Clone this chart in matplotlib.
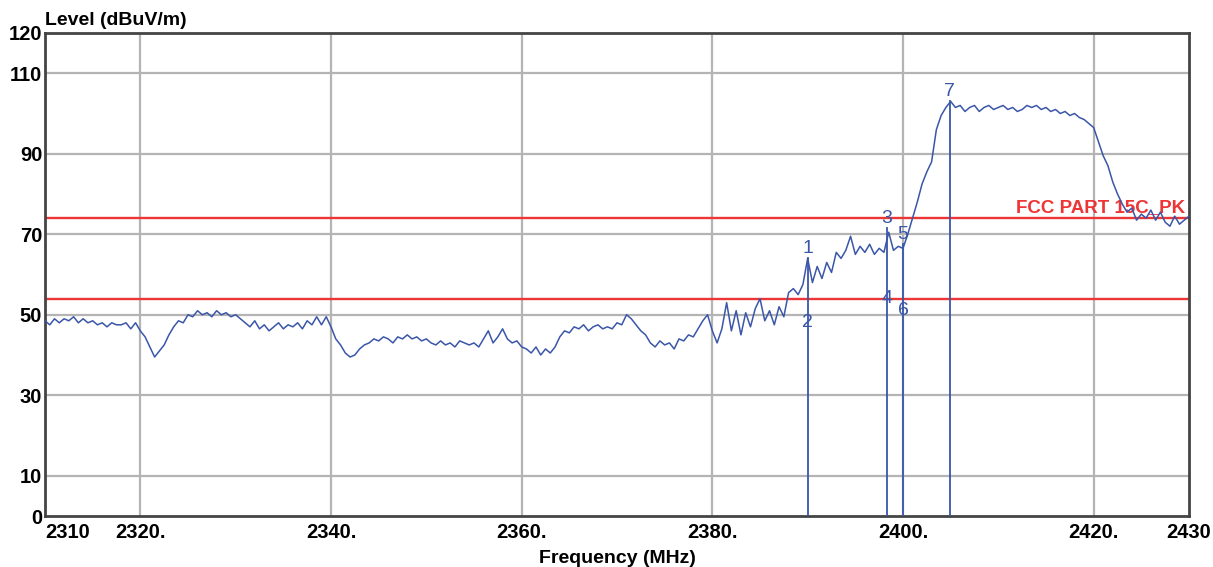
import numpy as np
import matplotlib
matplotlib.use("Agg")
import matplotlib.pyplot as plt

plt.rcParams['font.family'] = ['Liberation Sans', 'DejaVu Sans']

# sweep levels, 0.5 MHz apart, 2310 .. 2430 MHz (dBuV/m)
level = [
    48.5, 47.5, 49, 48, 49, 48.5, 49.5, 48, 49, 48, 48.5, 47.5, 48, 47, 48, 47.5, 47.5, 48, 46.5, 48,
    46, 44.5, 42, 39.5, 41, 42.5, 45, 47, 48.5, 48, 50, 49.5, 51, 50, 50.5, 49.5, 51, 50, 50.5, 49.5,
    50, 49, 48, 47, 48.5, 46.5, 47.5, 46, 47, 48, 46.5, 47.5, 47, 48, 46.5, 48.5, 47.5, 49.5, 47.5, 49.5,
    47, 44, 42.5, 40.5, 39.5, 40, 41.5, 42.5, 43, 44, 43.5, 44.5, 44, 43, 44.5, 44, 45, 44, 44.5, 43.5,
    44, 43, 42.5, 43.5, 42.5, 43, 42, 43.5, 43, 42.5, 43, 42, 44, 46, 43, 44.5, 46.5, 44, 43, 43.5,
    42, 41.5, 40.5, 42, 40, 41.5, 40.5, 42, 44.5, 46, 45.5, 47, 46.5, 47.5, 46, 47, 47.5, 46.5, 47, 46.5,
    48, 47.5, 50, 49, 47.5, 46, 45, 43, 42, 43.5, 42.5, 43, 41.5, 44, 43.5, 45, 44.5, 46.5, 48.5, 50,
    46, 43, 46.5, 53, 46, 51, 45, 50.5, 47, 51.5, 54, 48.5, 51, 47.5, 52, 49.5, 55.5, 56.5, 55, 57.5,
    64, 58, 62, 59, 63, 60.5, 65.5, 64, 66, 69.5, 65, 67, 65.5, 67.5, 65, 66.5, 65.5, 70.5, 66, 67,
    66.5, 70, 74, 78, 82.5, 85.5, 88, 96, 99.5, 101.5, 103, 101.5, 102, 100.5, 101.5, 102, 100.5, 101.5, 102, 101,
    101.5, 102, 101, 101.5, 100.5, 101, 102, 101.5, 102, 101, 101.5, 100.5, 101, 100, 100.5, 99.5, 100, 99, 98.5, 97.5,
    96.5, 93, 89.5, 87, 83, 80, 77.5, 75.5, 76.5, 73.5, 75, 74, 76, 73.5, 75.5, 73, 72, 74.5, 72.5, 73.5,
    74.5,
]
freq = np.linspace(2310, 2430, len(level))

# limit lines
limit_pk = 74
limit_av = 54
limit_name = "FCC PART 15C_PK"

# markers: peak ones get a line from the floor, average ones only a label
pk_names = ["1", "3", "5", "7"]
pk_freq = [2390.0, 2398.3, 2400.0, 2404.9]
pk_level = [64.0, 71.5, 67.5, 103.0]
av_names = ["2", "4", "6"]
av_freq = [2390.0, 2398.3, 2400.0]
av_level = [48.0, 54.0, 51.0]

xticks = [2310, 2320, 2340, 2360, 2380, 2400, 2420, 2430]
xlabels = ["2310", "2320.", "2340.", "2360.", "2380.", "2400.", "2420.", "2430"]
yticks = [0, 10, 30, 50, 70, 90, 110, 120]

trace_col = "#3a56a8"
red = "#ee3535"
grid_col = "#b4b4b4"

fig = plt.figure(figsize=(12.13, 5.67), dpi=100)
ax = fig.add_axes([45 / 1213, 1 - 516 / 567, (1189 - 45) / 1213, (516 - 33) / 567])

for x in xticks[1:-1]:
    ax.axvline(x, color=grid_col, lw=1.6, zorder=1)
for y in yticks[1:-1]:
    ax.axhline(y, color=grid_col, lw=1.6, zorder=1)

ax.axhline(limit_pk, color=red, lw=1.7, zorder=2)
ax.axhline(limit_av, color=red, lw=1.7, zorder=2)
ax.text(2429.6, limit_pk + 0.6, limit_name, color=red, fontsize=13.5,
        fontweight='bold', ha='right', va='bottom', zorder=2)

ax.plot(freq, level, color=trace_col, lw=1.1, zorder=3)

for name, f, lv in zip(pk_names, pk_freq, pk_level):
    ax.plot([f, f], [0, lv], color=trace_col, lw=1.3, zorder=3)
    ax.text(f, lv + 0.3, name, color=trace_col, fontsize=14, ha='center', va='bottom', zorder=4)
for name, f, lv in zip(av_names, av_freq, av_level):
    ax.text(f, lv, name, color=trace_col, fontsize=14, ha='center', va='center', zorder=4)

ax.set_xlim(2310, 2430)
ax.set_ylim(0, 120)
ax.set_xticks(xticks)
ax.set_xticklabels(xlabels)
ax.set_yticks(yticks)
ax.tick_params(length=0, labelsize=14.5)
ax.tick_params(axis='x', pad=5)
ax.tick_params(axis='y', pad=2)
for lab in ax.get_xticklabels() + ax.get_yticklabels():
    lab.set_fontweight('bold')
ax.get_xticklabels()[0].set_ha('left')

for s in ax.spines.values():
    s.set_color("#444444")
    s.set_linewidth(2)

ax.set_xlabel("Frequency (MHz)", fontsize=14, fontweight='bold', labelpad=6)
ax.text(0, 1.008, "Level (dBuV/m)", transform=ax.transAxes, fontsize=14,
        fontweight='bold', ha='left', va='bottom')

fig.savefig("out.png", dpi=100)
